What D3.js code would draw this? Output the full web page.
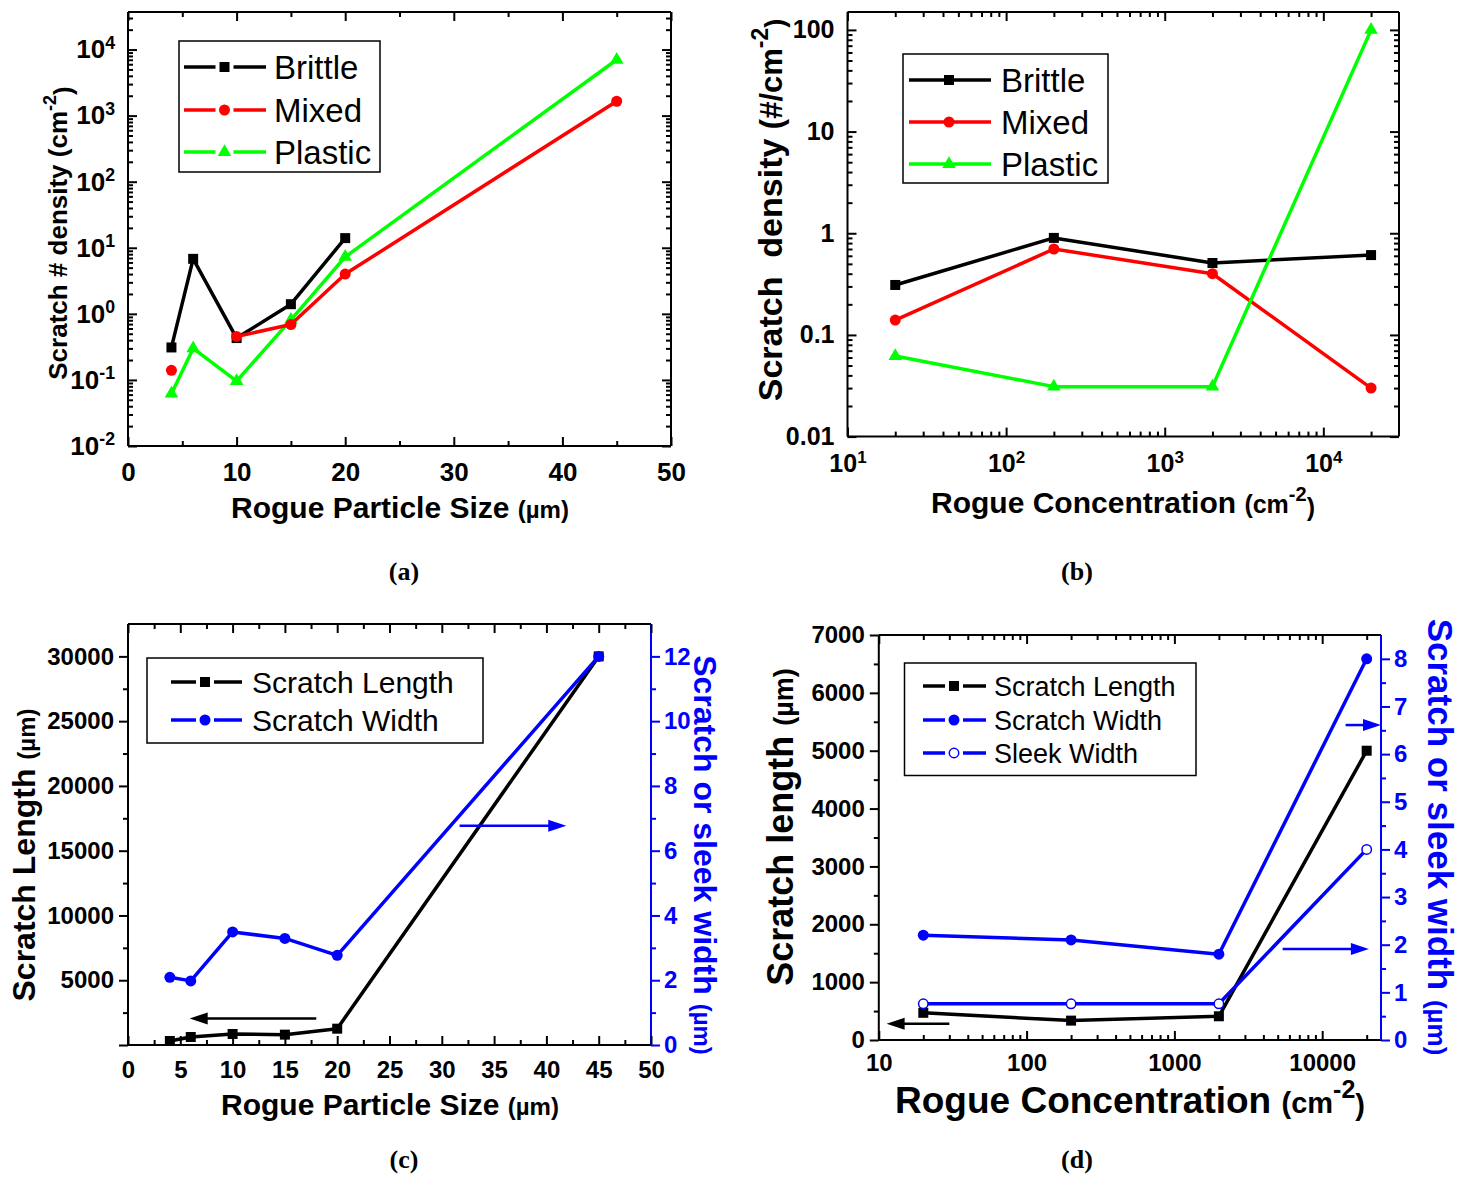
<!DOCTYPE html>
<html>
<head>
<meta charset="utf-8">
<script src="https://cdn.jsdelivr.net/npm/d3@7"></script>
<style>
body { margin:0; background:#fff; }
svg text { font-family: Arial, "Liberation Sans", sans-serif; }
</style>
</head>
<body>
<svg id="chart" width="1468" height="1177"></svg>
<script>
// (a) scratch number density vs rogue particle size
var sizeA = [4, 6, 10, 15, 20, 45];
var brittleA = [0.31, 6.8, 0.43, 1.4, 14, null];
var mixedA = [0.14, null, 0.455, 0.69, 4.0, 1650];
var plasticA = [0.062, 0.30, 0.096, 0.81, 7.3, 7000];
var xTicksA = [0, 10, 20, 30, 40, 50];
var xMinorA = [5, 15, 25, 35, 45];
var yExpA = [-2, -1, 0, 1, 2, 3, 4];

// (b) scratch density vs rogue concentration
var concB = [20, 200, 2000, 20000];
var brittleB = [0.31, 0.90, 0.51, 0.61];
var mixedB = [0.14, 0.70, 0.40, 0.030];
var plasticB = [0.062, 0.031, 0.031, 100];
var xExpB = [1, 2, 3, 4];
var yTicksB = [0.01, 0.1, 1, 10, 100];

// (c) scratch length / width vs particle size
var sizeC = [4, 6, 10, 15, 20, 45];
var lengthC = [310, 620, 850, 800, 1260, 30000];
var widthC = [2.09, 1.98, 3.49, 3.29, 2.77, 12];
var xTicksC = [0, 5, 10, 15, 20, 25, 30, 35, 40, 45, 50];
var yTicksC = [5000, 10000, 15000, 20000, 25000, 30000];
var y2TicksC = [0, 2, 4, 6, 8, 10, 12];
// arrows: [x from, x to, value on its axis]
var arrowLenC = [18, 5.9, 2055];
var arrowWidC = [31.7, 41.9, 6.77];

// (d) scratch length / widths vs concentration
var concD = [20, 200, 2000, 20000];
var lengthD = [470, 335, 410, 5000];
var widthD = [2.2, 2.1, 1.8, 8.0];
var sleekD = [0.76, 0.76, 0.76, 4.0];
var xTicksD = [10, 100, 1000, 10000];
var yTicksD = [0, 1000, 2000, 3000, 4000, 5000, 6000, 7000];
var y2TicksD = [0, 1, 2, 3, 4, 5, 6, 7, 8];
var arrowLenD = [30, 11.3, 282];
var arrowWid1D = [14400, 25000, 6.61];
var arrowWid2D = [5400, 20700, 1.91];

var svg = d3.select("#chart");
var BLUE = "#0000ff", RED = "#ff0000", GREEN = "#00ff00";

function logMinors(lo, hi) {
  var out = [];
  for (var e = Math.floor(Math.log10(lo)); e <= Math.ceil(Math.log10(hi)); e++) {
    for (var m = 2; m <= 9; m++) {
      var v = m * Math.pow(10, e);
      if (v > lo * 1.0001 && v < hi) out.push(v);
    }
  }
  return out;
}

function maker(orient) {
  return { left: d3.axisLeft, right: d3.axisRight, top: d3.axisTop, bottom: d3.axisBottom }[orient];
}
function place(orient, pos) {
  return (orient == "left" || orient == "right") ? "translate(" + pos + ",0)" : "translate(0," + pos + ")";
}

// ticks only; dir 1 = inside, -1 = outside
function axisTicks(g, orient, scale, major, minor, pos, dir, color) {
  [[major, 9], [minor, 5]].forEach(function(t) {
    g.append("g").attr("transform", place(orient, pos))
      .call(maker(orient)(scale).tickValues(t[0]).tickSize(-dir * t[1]).tickFormat(""))
      .call(function(s) {
        s.select(".domain").remove();
        s.selectAll("line").attr("stroke", color || "#000").attr("stroke-width", 2);
      });
  });
}

function axisLabels(g, orient, scale, values, pos, pad, fmt, size, color) {
  var ax = g.append("g").attr("transform", place(orient, pos))
    .call(maker(orient)(scale).tickValues(values).tickSize(0).tickPadding(pad));
  ax.select(".domain").remove();
  ax.selectAll("text")
    .attr("font-size", size).attr("font-weight", "bold").attr("fill", color || "#000")
    .each(function(d) { fmt(d3.select(this), d, size); });
}

function plain(sel, d) { sel.text(d); }
function pow10(sel, d, size) {
  sel.text("10").append("tspan").attr("dy", "-0.55em").attr("font-size", size * 0.68).text(d);
}

function frame(g, x0, y0, x1, y1, rightColor) {
  g.append("line").attr("x1", x0).attr("x2", x0).attr("y1", y0).attr("y2", y1).attr("stroke", "#000").attr("stroke-width", 2);
  g.append("line").attr("x1", x0).attr("x2", x1).attr("y1", y0).attr("y2", y0).attr("stroke", "#000").attr("stroke-width", 2);
  g.append("line").attr("x1", x0).attr("x2", x1).attr("y1", y1).attr("y2", y1).attr("stroke", "#000").attr("stroke-width", 2);
  g.append("line").attr("x1", x1).attr("x2", x1).attr("y1", y0).attr("y2", y1).attr("stroke", rightColor || "#000").attr("stroke-width", 2);
}

var SHAPES = { square: [d3.symbolSquare, 100], circle: [d3.symbolCircle, 95], triangle: [d3.symbolTriangle, 80] };

function symbol(g, cx, cy, shape, color, open) {
  g.append("path")
    .attr("transform", "translate(" + cx + "," + cy + ")")
    .attr("d", d3.symbol().type(SHAPES[shape][0]).size(open ? 70 : SHAPES[shape][1]))
    .attr("fill", open ? "#fff" : color)
    .attr("stroke", color).attr("stroke-width", open ? 1.5 : 0);
}

function drawSeries(g, xs, ys, x, y, color, shape, open) {
  var pts = xs.map(function(d, i) { return { x: d, y: ys[i] }; });
  var line = d3.line()
    .defined(function(d) { return d.y != null; })
    .x(function(d) { return x(d.x); })
    .y(function(d) { return y(d.y); });
  g.append("path").datum(pts)
    .attr("d", line)
    .attr("fill", "none").attr("stroke", color).attr("stroke-width", 3.5).attr("stroke-linejoin", "round");
  pts.filter(function(d) { return d.y != null; }).forEach(function(d) {
    symbol(g, x(d.x), y(d.y), shape, color, open);
  });
}

function legend(g, box, rows, font, gapped) {
  g.append("rect").attr("x", box[0]).attr("y", box[1]).attr("width", box[2]).attr("height", box[3])
    .attr("fill", "#fff").attr("stroke", "#000").attr("stroke-width", 1.5);
  rows.forEach(function(r) {
    var ly = r.y;
    if (gapped) {
      g.append("line").attr("x1", box[4]).attr("x2", box[5] - 9).attr("y1", ly).attr("y2", ly).attr("stroke", r.color).attr("stroke-width", 3.5);
      g.append("line").attr("x1", box[5] + 9).attr("x2", box[6]).attr("y1", ly).attr("y2", ly).attr("stroke", r.color).attr("stroke-width", 3.5);
    } else {
      g.append("line").attr("x1", box[4]).attr("x2", box[6]).attr("y1", ly).attr("y2", ly).attr("stroke", r.color).attr("stroke-width", 3.5);
    }
    symbol(g, box[5], ly, r.shape, r.color, r.open);
    g.append("text").attr("x", box[7]).attr("y", ly).attr("dy", "0.36em")
      .attr("font-size", font).text(r.label);
  });
}

function arrow(g, x, y, a, color) {
  var xa = x(a[0]), xb = x(a[1]), yy = y(a[2]);
  var dir = xb > xa ? 1 : -1;
  g.append("line").attr("x1", xa).attr("x2", xb - dir * 12).attr("y1", yy).attr("y2", yy)
    .attr("stroke", color).attr("stroke-width", 2.5);
  g.append("path")
    .attr("d", "M" + xb + "," + yy + "L" + (xb - dir * 18) + "," + (yy - 6) + "L" + (xb - dir * 18) + "," + (yy + 6) + "Z")
    .attr("fill", color);
}

function title(g, x, y, rot, parts, size, color) {
  var t = g.append("text").attr("text-anchor", "middle").attr("font-weight", "bold")
    .attr("fill", color || "#000").attr("font-size", size)
    .attr("transform", "translate(" + x + "," + y + ") rotate(" + rot + ")");
  parts.forEach(function(p) {
    var s = t.append("tspan").text(p[0]);
    if (p[1]) s.attr("font-size", p[1]);
    if (p[2]) s.attr("dy", p[2]);
  });
  return t;
}

function caption(x, y, txt) {
  svg.append("text").attr("x", x).attr("y", y).attr("text-anchor", "middle")
    .attr("font-weight", "bold").attr("font-size", 26)
    .style("font-family", "'Liberation Serif', 'Times New Roman', serif").text(txt);
}

// ---------- (a) ----------
var gA = svg.append("g");
var xA = d3.scaleLinear().domain([0, 50]).range([128, 671]);
var yA = d3.scaleLog().domain([0.01, 37000]).range([446, 12]);
var majA = yExpA.map(function(e) { return Math.pow(10, e); });
var minA = logMinors(0.01, 37000);

frame(gA, 128, 12, 671, 446);
axisTicks(gA, "bottom", xA, xTicksA, xMinorA, 446, 1);
axisTicks(gA, "top", xA, xTicksA, xMinorA, 12, 1);
axisTicks(gA, "left", yA, majA, minA, 128, 1);
axisTicks(gA, "right", yA, majA, minA, 671, 1);
axisLabels(gA, "bottom", xA, xTicksA, 446, 17, plain, 26);
axisLabels(gA, "left", yA, majA, 128, 13, function(sel, d, size) {
  pow10(sel, Math.round(Math.log10(d)), size);
}, 26);

drawSeries(gA, sizeA, brittleA, xA, yA, "#000", "square");
drawSeries(gA, sizeA, plasticA, xA, yA, GREEN, "triangle");
drawSeries(gA, sizeA, mixedA, xA, yA, RED, "circle");

legend(gA, [179, 41, 201, 131, 184, 224.5, 266, 274], [
  { y: 67, label: "Brittle", color: "#000", shape: "square" },
  { y: 110, label: "Mixed", color: RED, shape: "circle" },
  { y: 152, label: "Plastic", color: GREEN, shape: "triangle" }
], 33, true);

title(gA, 400, 518, 0, [["Rogue Particle Size "], ["(\u00b5m)", 24]], 30);
title(gA, 67, 233, -90, [["Scratch # density (cm"], ["-2", 18, "-0.6em"], [")", 26, "0.6em"]], 26);
caption(404, 580, "(a)");

// ---------- (b) ----------
var gB = svg.append("g");
var xB = d3.scaleLog().domain([10, 30000]).range([847.5, 1399]);
var yB = d3.scaleLog().domain([0.01, 150]).range([436.6, 12]);
var majBx = xExpB.map(function(e) { return Math.pow(10, e); });
var minBx = logMinors(10, 30000);
var minBy = logMinors(0.01, 150);

frame(gB, 847.5, 12, 1399, 436.6);
axisTicks(gB, "bottom", xB, majBx, minBx, 436.6, 1);
axisTicks(gB, "top", xB, majBx, minBx, 12, 1);
axisTicks(gB, "left", yB, yTicksB, minBy, 847.5, 1);
axisTicks(gB, "right", yB, yTicksB, minBy, 1399, 1);
axisLabels(gB, "bottom", xB, majBx, 436.6, 18, function(sel, d, size) {
  pow10(sel, Math.round(Math.log10(d)), size);
}, 25);
axisLabels(gB, "left", yB, yTicksB, 847.5, 13, function(sel, d) {
  sel.text(d3.format("~g")(d));
}, 25);

drawSeries(gB, concB, brittleB, xB, yB, "#000", "square");
drawSeries(gB, concB, mixedB, xB, yB, RED, "circle");
drawSeries(gB, concB, plasticB, xB, yB, GREEN, "triangle");

legend(gB, [903, 54, 205, 129, 909, 949, 991, 1001], [
  { y: 80, label: "Brittle", color: "#000", shape: "square" },
  { y: 122, label: "Mixed", color: RED, shape: "circle" },
  { y: 164, label: "Plastic", color: GREEN, shape: "triangle" }
], 33, false);

title(gB, 1123, 513, 0, [["Rogue Concentration "], ["(cm", 25], ["-2", 20, "-0.6em"], [")", 25, "0.6em"]], 30);
title(gB, 782, 210, -90, [["Scratch\u00a0 density "], ["(#/cm", 31], ["-2", 23, "-0.6em"], [")", 27, "0.6em"]], 34);
caption(1077, 580, "(b)");

// ---------- (c) ----------
var gC = svg.append("g");
var xC = d3.scaleLinear().domain([0, 50]).range([128, 651]);
var yC = d3.scaleLinear().domain([0, 32500]).range([1045, 624]);
var y2C = d3.scaleLinear().domain([0, 13]).range([1045, 624]);
var minCx = d3.range(2.5, 50, 5);
var minCy = d3.range(2500, 32500, 5000);
var minCy2 = d3.range(1, 13, 2);

frame(gC, 128, 624, 651, 1045, BLUE);
axisTicks(gC, "bottom", xC, xTicksC, minCx, 1045, 1);
axisTicks(gC, "top", xC, xTicksC, minCx, 624, 1);
axisTicks(gC, "left", yC, [0].concat(yTicksC), minCy, 128, -1);
axisTicks(gC, "right", y2C, y2TicksC, minCy2, 651, -1, BLUE);
axisLabels(gC, "bottom", xC, xTicksC, 1045, 16, plain, 24);
axisLabels(gC, "left", yC, yTicksC, 128, 14, plain, 24);
axisLabels(gC, "right", y2C, y2TicksC, 651, 13, plain, 24, BLUE);

drawSeries(gC, sizeC, lengthC, xC, yC, "#000", "square");
drawSeries(gC, sizeC, widthC, xC, y2C, BLUE, "circle");
arrow(gC, xC, yC, arrowLenC, "#000");
arrow(gC, xC, y2C, arrowWidC, BLUE);

legend(gC, [147, 658, 336, 85, 171, 205, 242, 252], [
  { y: 682, label: "Scratch Length", color: "#000", shape: "square" },
  { y: 720, label: "Scratch Width", color: BLUE, shape: "circle" }
], 30, true);

title(gC, 390, 1115, 0, [["Rogue Particle Size "], ["(\u00b5m)", 24]], 30);
title(gC, 35, 855, -90, [["Scratch Length "], ["(\u00b5m)", 24]], 32);
title(gC, 694, 855, 90, [["Scratch or sleek width "], ["(\u00b5m)", 24]], 32, BLUE);
caption(404, 1168, "(c)");

// ---------- (d) ----------
var gD = svg.append("g");
var xD = d3.scaleLog().domain([10, 25000]).range([878.8, 1381]);
var yD = d3.scaleLinear().domain([0, 7000]).range([1040, 635]);
var y2D = d3.scaleLinear().domain([0, 8.5]).range([1040, 635]);
var minDx = logMinors(10, 25000);
var minDy = d3.range(500, 7000, 1000);
var minDy2 = d3.range(0.5, 8.5, 1);

frame(gD, 878.8, 635, 1381, 1040, BLUE);
axisTicks(gD, "bottom", xD, xTicksD, minDx, 1040, 1);
axisTicks(gD, "top", xD, xTicksD, minDx, 635, 1);
axisTicks(gD, "left", yD, yTicksD, minDy, 878.8, -1);
axisTicks(gD, "right", y2D, y2TicksD, minDy2, 1381, -1, BLUE);
axisLabels(gD, "bottom", xD, xTicksD, 1040, 14, plain, 24);
axisLabels(gD, "left", yD, yTicksD, 878.8, 14, plain, 24);
axisLabels(gD, "right", y2D, y2TicksD, 1381, 13, plain, 24, BLUE);

drawSeries(gD, concD, lengthD, xD, yD, "#000", "square");
drawSeries(gD, concD, widthD, xD, y2D, BLUE, "circle");
drawSeries(gD, concD, sleekD, xD, y2D, BLUE, "circle", true);
arrow(gD, xD, yD, arrowLenD, "#000");
arrow(gD, xD, y2D, arrowWid1D, BLUE);
arrow(gD, xD, y2D, arrowWid2D, BLUE);

legend(gD, [904.5, 663, 291.5, 112.5, 923, 954, 986, 994], [
  { y: 686, label: "Scratch Length", color: "#000", shape: "square" },
  { y: 720, label: "Scratch Width", color: BLUE, shape: "circle" },
  { y: 753, label: "Sleek Width", color: BLUE, shape: "circle", open: true }
], 27, true);

title(gD, 1130, 1113, 0, [["Rogue Concentration "], ["(cm", 29], ["-2", 25, "-0.6em"], [")", 29, "0.6em"]], 37);
title(gD, 793, 827, -90, [["Scratch length "], ["(\u00b5m)", 27]], 36);
title(gD, 1428, 837, 90, [["Scratch or sleek width "], ["(\u00b5m)", 26]], 35, BLUE);
caption(1077, 1168, "(d)");
</script>
</body>
</html>
